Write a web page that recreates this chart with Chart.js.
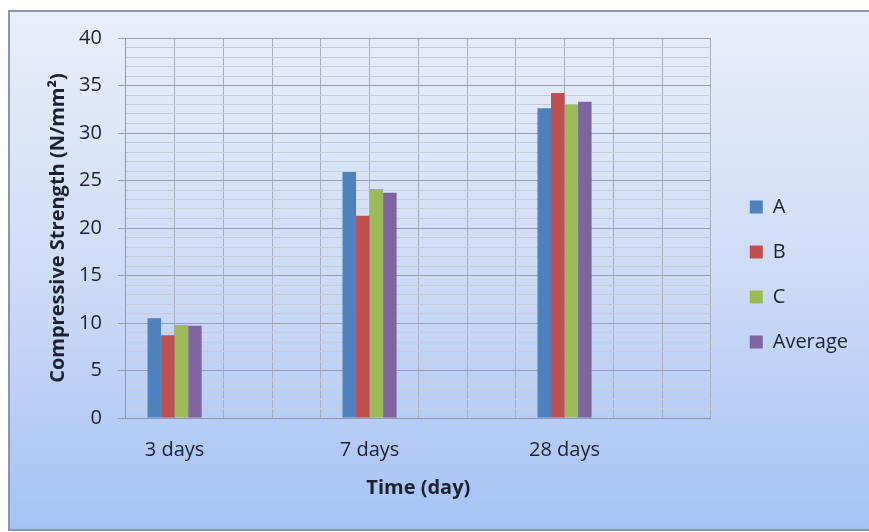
<!DOCTYPE html>
<html>
<head>
<meta charset="utf-8">
<script src="https://cdn.jsdelivr.net/npm/chart.js@4.4.1/dist/chart.umd.min.js"></script>
<style>
  html, body { margin: 0; padding: 0; background: #fff; }
  #wrap { width: 869px; height: 532px; }
</style>
</head>
<body>
<div id="wrap"><canvas id="chart" width="869" height="532"></canvas></div>
<script>
// Values (N/mm²).
const categories = ['3 days', '7 days', '28 days'];
const seriesNames = ['A', 'B', 'C', 'Average'];
const seriesA = [10.5, 25.9, 32.6];
const seriesB = [8.7, 21.3, 34.2];
const seriesC = [9.8, 24.1, 33.0];
const seriesAvg = [9.7, 23.7, 33.3];
const yTicks = [0, 5, 10, 15, 20, 25, 30, 35, 40];

const COLORS = ['#4f81bd', '#c0504d', '#9bbb59', '#8064a2'];
const FONT = "'Open Sans', 'DejaVu Sans', sans-serif";
const TEXT = '#1b2130';

// Excel drew the axis with 12 gridline slots, each category on every 4th.
const SLOTS = 12;
const SLOT_STEP = 4;
const slotLabels = Array.from({ length: SLOTS + 1 }, () => '');
categories.forEach((c, i) => { slotLabels[1 + i * SLOT_STEP] = c; });

function toSlots(values) {
  const out = Array.from({ length: SLOTS + 1 }, () => null);
  values.forEach((v, i) => { out[1 + i * SLOT_STEP] = v; });
  return out;
}

const allSeries = [seriesA, seriesB, seriesC, seriesAvg];

// Framed gradient backdrop like the Excel chart area.
const backdrop = {
  id: 'backdrop',
  beforeDraw(chart) {
    const { ctx, width, height } = chart;
    ctx.save();
    ctx.fillStyle = '#ffffff';
    ctx.fillRect(0, 0, width, height);
    const g = ctx.createLinearGradient(0, 10, 0, 530);
    g.addColorStop(0, '#e9effb');
    g.addColorStop(0.5, '#cfdcf6');
    g.addColorStop(1, '#a6c2f4');
    ctx.fillStyle = g;
    ctx.fillRect(9, 11, width, 519);
    ctx.strokeStyle = '#8796b0';
    ctx.lineWidth = 2;
    ctx.strokeRect(9, 11, width + 4, 519);
    ctx.restore();
  },
};

new Chart(document.getElementById('chart'), {
  type: 'bar',
  data: {
    labels: slotLabels,
    datasets: seriesNames.map((name, i) => ({
      label: name,
      data: toSlots(allSeries[i]),
      backgroundColor: COLORS[i],
      borderColor: COLORS[i],
      borderWidth: 0,
      categoryPercentage: 1.11,
      barPercentage: 1.0,
    })),
  },
  options: {
    responsive: false,
    animation: false,
    devicePixelRatio: 1,
    layout: { padding: { left: 42, top: 38, right: 11, bottom: 21 } },
    plugins: {
      tooltip: { enabled: false },
      legend: {
        position: 'right',
        labels: {
          boxWidth: 13,
          boxHeight: 13,
          padding: 25,
          color: TEXT,
          font: { family: FONT, size: 20 },
        },
      },
    },
    scales: {
      x: {
        offset: false,
        grid: { offset: false, color: '#a9b1c0', drawTicks: false },
        border: { color: '#8e98a8' },
        ticks: {
          autoSkip: false,
          maxRotation: 0,
          padding: 20,
          color: TEXT,
          font: { family: FONT, size: 20 },
        },
        title: {
          display: true,
          text: 'Time (day)',
          color: TEXT,
          font: { family: FONT, size: 20, weight: 'bold' },
          padding: { top: -6, bottom: 11 },
        },
      },
      y: {
        min: yTicks[0],
        max: yTicks[yTicks.length - 1],
        grid: {
          color: (c) => (c.tick && yTicks.includes(c.tick.value) ? '#98a0b0' : '#c6cedc'),
          tickColor: (c) => (c.tick && yTicks.includes(c.tick.value) ? '#98a0b0' : 'rgba(0,0,0,0)'),
          tickLength: 8,
        },
        border: { color: '#8e98a8' },
        ticks: {
          stepSize: 1,
          autoSkip: false,
          padding: 16,
          color: TEXT,
          font: { family: FONT, size: 20 },
          callback: (v) => (yTicks.includes(v) ? String(v) : ''),
        },
        title: {
          display: true,
          text: 'Compressive Strength (N/mm²)',
          color: TEXT,
          font: { family: FONT, size: 20, weight: 'bold' },
          padding: { top: 4, bottom: -7 },
        },
      },
      gap: {
        position: 'right',
        display: true,
        grid: { display: false, drawTicks: false },
        border: { display: false },
        ticks: { display: false },
        afterFit(scale) { scale.width = 14; },
      },
    },
  },
  plugins: [backdrop],
});
</script>
</body>
</html>
